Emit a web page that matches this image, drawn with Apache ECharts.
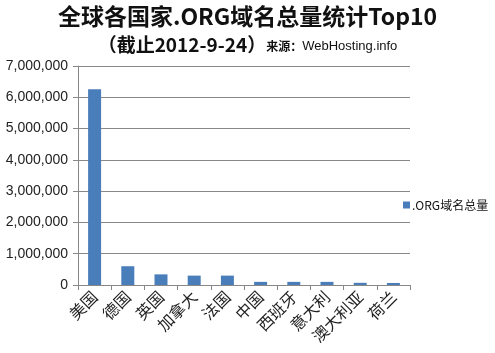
<!DOCTYPE html>
<html>
<head>
<meta charset="utf-8">
<script src="https://cdn.jsdelivr.net/npm/echarts@6/dist/echarts.min.js"></script>
<style>
  html, body { margin: 0; padding: 0; background: #fff; }
  #chart { width: 495px; height: 353px; }
</style>
</head>
<body>
<div id="chart"></div>
<script>
// 国家（按域名总量排序）
const countries = ['美国', '德国', '英国', '加拿大', '法国', '中国', '西班牙', '意大利', '澳大利亚', '荷兰']
// .ORG 域名总量
const orgTotals = [6260000, 600000, 340000, 300000, 300000, 100000, 100000, 100000, 70000, 65000]
const yTicks = [0, 1000000, 2000000, 3000000, 4000000, 5000000, 6000000, 7000000]

const myChart = echarts.init(document.getElementById('chart'))
myChart.setOption({
  animation: false,
  color: ['#4a7ebb'],
  title: {
    text: '全球各国家.ORG域名总量统计Top10',
    subtext: '{a|（截止2012-9-24）}{b|来源：}{c|WebHosting.info}',
    left: 'center',
    top: 0,
    itemGap: 7,
    textStyle: {
      fontFamily: 'Noto Sans CJK SC',
      fontSize: 23,
      fontWeight: 'bold',
      color: '#111'
    },
    subtextStyle: {
      rich: {
        a: { fontFamily: 'Noto Sans CJK SC', fontSize: 19, fontWeight: 'bold', color: '#111' },
        b: { fontFamily: 'Noto Sans CJK SC', fontSize: 12, fontWeight: 'bold', color: '#111', padding: [4, 0, 0, 0] },
        c: { fontFamily: 'Arial, Liberation Sans', fontSize: 13, color: '#111', padding: [4, 0, 0, 0] }
      }
    }
  },
  legend: {
    data: ['.ORG域名总量'],
    orient: 'vertical',
    left: 398,
    top: 194,
    itemWidth: 7,
    itemHeight: 7,
    itemGap: 4,
    icon: 'rect',
    textStyle: { fontFamily: 'Noto Sans CJK SC', fontSize: 12, color: '#111', padding: [0, 0, 0, -3] }
  },
  grid: { left: 78, right: 85, top: 66, bottom: 68, containLabel: false },
  xAxis: {
    type: 'category',
    data: countries,
    axisLine: { lineStyle: { color: '#888', width: 1 } },
    axisTick: { show: true, alignWithLabel: false, length: 5, inside: false, lineStyle: { color: '#888' } },
    axisLabel: {
      rotate: 45,
      interval: 0,
      margin: 9,
      fontFamily: 'Noto Sans CJK SC',
      fontSize: 16,
      color: '#222'
    }
  },
  yAxis: {
    type: 'value',
    min: 0,
    max: 7000000,
    interval: 1000000,
    axisLine: { show: true, lineStyle: { color: '#888' } },
    axisTick: { show: true, length: 5, lineStyle: { color: '#888' } },
    splitLine: { lineStyle: { color: '#888', width: 1 } },
    axisLabel: {
      margin: 10,
      fontFamily: 'Arial, Liberation Sans',
      fontSize: 14,
      color: '#222',
      formatter: v => yTicks.includes(v) ? v.toLocaleString('en-US') : ''
    }
  },
  series: [{
    name: '.ORG域名总量',
    type: 'bar',
    barWidth: 13,
    data: orgTotals
  }]
})
</script>
</body>
</html>
